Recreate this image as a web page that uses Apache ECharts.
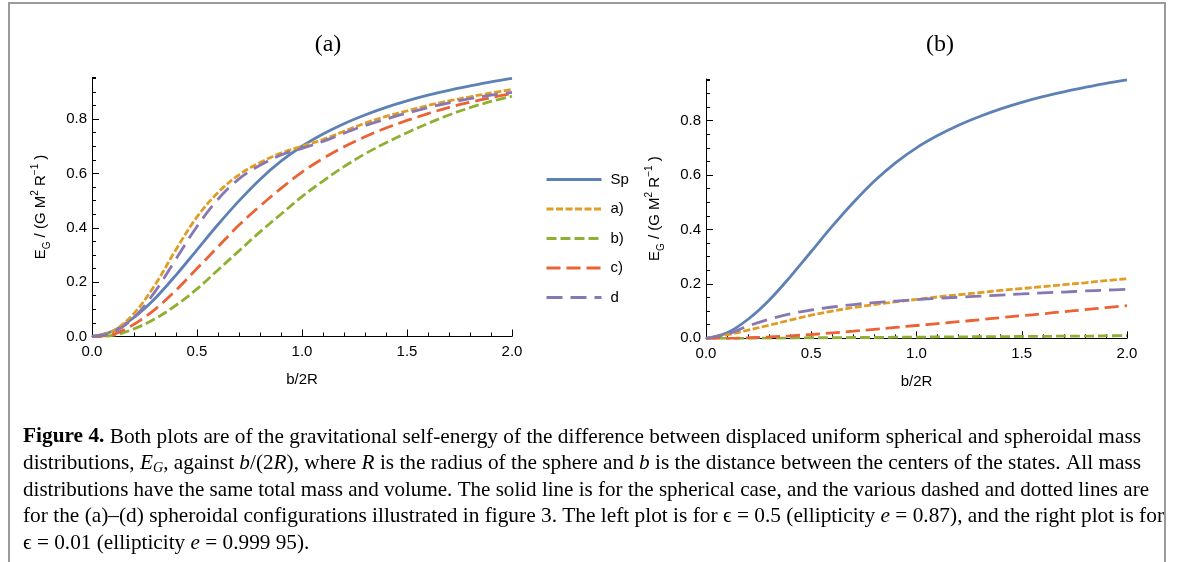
<!DOCTYPE html>
<html><head><meta charset="utf-8">
<script src="https://cdn.jsdelivr.net/npm/echarts@6/dist/echarts.min.js"></script>
<style>html,body{margin:0;padding:0;background:#fff}#c{width:1182px;height:562px}</style>
</head><body><div id="c"></div>
<script>
// ---------- data ----------
const xValues = [0,0.1,0.2,0.3,0.4,0.5,0.6,0.7,0.8,0.9,1.0,1.1,1.2,1.3,1.4,1.5,1.6,1.7,1.8,1.9,2.0];
const seriesNames = ['Sp','a)','b)','c)','d'];
const xTickLabels = ['0.0','0.5','1.0','1.5','2.0'];
const yTickValues = [0,0.2,0.4,0.6,0.8];
// left plot (epsilon = 0.5)
const leftSp = [0,0.02,0.07,0.14,0.226,0.319,0.412,0.499,0.578,0.645,0.70,0.745,0.783,0.815,0.843,0.867,0.888,0.906,0.922,0.937,0.95];
const leftA  = [0,0.02,0.085,0.19,0.32,0.44,0.53,0.595,0.64,0.675,0.70,0.725,0.755,0.785,0.81,0.83,0.85,0.867,0.882,0.896,0.909];
const leftB  = [0,0.004,0.028,0.065,0.115,0.175,0.245,0.315,0.385,0.45,0.515,0.572,0.625,0.672,0.713,0.75,0.784,0.815,0.842,0.865,0.884];
const leftC  = [0,0.008,0.045,0.10,0.17,0.25,0.33,0.41,0.48,0.545,0.605,0.655,0.698,0.735,0.767,0.795,0.82,0.843,0.862,0.879,0.894];
const leftD  = [0,0.015,0.07,0.165,0.285,0.405,0.505,0.58,0.63,0.668,0.692,0.718,0.748,0.776,0.80,0.822,0.842,0.86,0.875,0.888,0.898];
// right plot (epsilon = 0.01)
const rightSp = [0,0.02,0.07,0.14,0.226,0.319,0.412,0.499,0.578,0.645,0.70,0.745,0.783,0.815,0.843,0.867,0.888,0.906,0.922,0.937,0.95];
const rightA  = [0,0.013,0.03,0.048,0.067,0.085,0.1,0.113,0.124,0.134,0.143,0.152,0.16,0.168,0.176,0.183,0.19,0.197,0.204,0.212,0.219];
const rightB  = [0,0,0,0.001,0.001,0.002,0.002,0.003,0.003,0.004,0.004,0.005,0.005,0.006,0.006,0.007,0.007,0.008,0.008,0.009,0.01];
const rightC  = [0,0,0.002,0.005,0.009,0.014,0.02,0.026,0.033,0.04,0.047,0.054,0.061,0.068,0.076,0.083,0.09,0.098,0.105,0.113,0.12];
const rightD  = [0,0.015,0.045,0.07,0.09,0.104,0.115,0.124,0.131,0.137,0.142,0.147,0.151,0.155,0.159,0.163,0.167,0.17,0.174,0.177,0.18];

// ---------- styles ----------
const colors = ['#5E81B5','#E19C24','#8FB032','#EB6235','#8778B3'];
const dashes = ['solid',[7,2.5],[10,4],[14,6],[16,8]];
const sans = '"Liberation Sans", Arial, sans-serif';
const serif = '"Liberation Serif","DejaVu Serif", serif';

function pairs(ys){ return xValues.map((x,i)=>[x, ys[i]]); }

const leftSets = [leftSp,leftA,leftB,leftC,leftD];
const rightSets = [rightSp,rightA,rightB,rightC,rightD];

const series = [];
[leftSets, rightSets].forEach((sets, gi) => {
  sets.forEach((ys, k) => {
    series.push({
      name: seriesNames[k], type: 'line', xAxisIndex: gi, yAxisIndex: gi*2,
      data: pairs(ys), symbol: 'none', smooth: 0.35, animation: false,
      lineStyle: { color: colors[k], width: 2.8, type: dashes[k] },
      itemStyle: { color: colors[k] }, z: 3 + k
    });
  });
});

const yNameRich = {
  n: { fontSize: 15, fontFamily: sans, color: '#000', lineHeight: 22 },
  sub: { fontSize: 10, fontFamily: sans, color: '#000', verticalAlign: 'bottom', lineHeight: 22 },
  sup: { fontSize: 10, fontFamily: sans, color: '#000', verticalAlign: 'top', lineHeight: 22 }
};
const yName = '{n|E}{sub|G}{n| / (G M}{sup|2}{n| R}{sup|−1}{n| )}';

function xAxisDef(gi){
  return {
    gridIndex: gi, type: 'value', min: 0, max: 2, interval: 0.5,
    axisLine: { show: true, onZero: false, lineStyle: { color: '#000', width: 1 } },
    axisTick: { show: true, inside: true, length: 7, lineStyle: { color: '#000' } },
    minorTick: { show: true, splitNumber: 5, length: 4, lineStyle: { color: '#000' } },
    splitLine: { show: false },
    axisLabel: { color: '#000', fontSize: 15, fontFamily: sans, margin: 8,
      formatter: v => xTickLabels[Math.round(v/0.5)] || '' },
    name: 'b/2R', nameLocation: 'middle', nameGap: 36,
    nameTextStyle: { color: '#000', fontSize: 15, fontFamily: sans }
  };
}
function yAxisMain(gi){
  return {
    gridIndex: gi, type: 'value', min: 0, max: 0.953, interval: 0.2, position: 'left',
    axisLine: { show: true, onZero: false, lineStyle: { color: '#000', width: 1 } },
    axisTick: { show: true, inside: true, length: 7, lineStyle: { color: '#000' }, customValues: yTickValues },
    splitLine: { show: false },
    axisLabel: { color: '#000', fontSize: 15, fontFamily: sans, margin: 5,
      customValues: yTickValues,
      formatter: v => (Math.abs(v/0.2 - Math.round(v/0.2)) < 1e-6) ? v.toFixed(1) : '' },
    name: yName, nameLocation: 'middle', nameGap: 40, nameRotate: 90,
    nameTextStyle: { rich: yNameRich }
  };
}
function yAxisMinor(gi){
  return {
    gridIndex: gi, type: 'value', min: 0, max: 0.953, interval: 0.05, position: 'left', offset: 0,
    axisLine: { show: false },
    axisTick: { show: true, inside: true, length: 4, lineStyle: { color: '#000' } },
    axisLabel: { show: false }, splitLine: { show: false }
  };
}

// caption
const capFs = 21;
const capStyles = {
  n: { fontSize: capFs, fontFamily: serif, color: '#111', lineHeight: 24 },
  b: { fontSize: capFs, fontFamily: serif, color: '#111', fontWeight: 'bold', lineHeight: 24 },
  i: { fontSize: capFs, fontFamily: serif, color: '#111', fontStyle: 'italic', lineHeight: 24 },
  sub: { fontSize: 14, fontFamily: serif, color: '#111', fontStyle: 'italic', verticalAlign: 'bottom', lineHeight: 24 },
  l: { fontSize: capFs, fontFamily: serif, color: '#2B9BD3', lineHeight: 24 }
};
const capLines = [
  [['b','Figure 4.'],['n',' Both plots are of the gravitational self-energy of the difference between displaced uniform spherical and spheroidal mass']],
  [['n','distributions, '],['i','E'],['sub','G'],['n',', against '],['i','b'],['n','/(2'],['i','R'],['n','), where '],['i','R'],['n',' is the radius of the sphere and '],['i','b'],['n',' is the distance between the centers of the states. All mass']],
  [['n','distributions have the same total mass and volume. The solid line is for the spherical case, and the various dashed and dotted lines are']],
  [['n','for the (a)–(d) spheroidal configurations illustrated in figure '],['l','3'],['n','. The left plot is for ϵ = 0.5 (ellipticity '],['i','e'],['n',' = 0.87), and the right plot is for']],
  [['n','ϵ = 0.01 (ellipticity '],['i','e'],['n',' = 0.999 95).']]
];
const capLineY = [437, 463.5, 490, 516.5, 543];
const capTargetW = [1118, 1118, 1126, 1141, null];

const mctx = document.createElement('canvas').getContext('2d');
function measure(line){
  let w = 0;
  line.forEach(([s,t]) => {
    const st = capStyles[s];
    mctx.font = `${st.fontStyle||'normal'} ${st.fontWeight||'normal'} ${st.fontSize}px ${st.fontFamily}`;
    w += mctx.measureText(t).width;
  });
  return w;
}
const scales = capLines.map((l,i) => capTargetW[i] ? capTargetW[i]/measure(l) : null);
const known = scales.filter(s=>s); const avgScale = known.reduce((a,b)=>a+b,0)/known.length;

const graphics = [
  { type: 'rect', shape: { x: 9, y: 3, width: 1156, height: 700 }, style: { fill: 'none', stroke: '#9a9a9a', lineWidth: 2 }, z: 0 },
  { type: 'text', x: 328, y: 45, style: { text: '(a)', font: `24px ${serif}`, fill: '#000', textAlign: 'center', textVerticalAlign: 'middle' } },
  { type: 'text', x: 940, y: 45, style: { text: '(b)', font: `24px ${serif}`, fill: '#000', textAlign: 'center', textVerticalAlign: 'middle' } }
];
capLines.forEach((line, i) => {
  graphics.push({
    type: 'text', x: 23, y: capLineY[i], scaleX: scales[i] || avgScale,
    style: { text: line.map(([s,t]) => `{${s}|${t}}`).join(''), rich: capStyles,
      textAlign: 'left', textVerticalAlign: 'middle' }
  });
});

const chart = echarts.init(document.getElementById('c'), null, { renderer: 'canvas' });
chart.setOption({
  animation: false,
  backgroundColor: '#fff',
  grid: [
    { left: 92, top: 77.5, width: 420, height: 259 },
    { left: 706, top: 79, width: 421, height: 259.3 }
  ],
  xAxis: [xAxisDef(0), xAxisDef(1)],
  yAxis: [yAxisMain(0), yAxisMinor(0), yAxisMain(1), yAxisMinor(1)],
  legend: {
    data: seriesNames, orient: 'vertical', left: 545, top: 172, padding: 0,
    itemWidth: 55, itemHeight: 14, itemGap: 14.5, selectedMode: false,
    itemStyle: { opacity: 0 },
    lineStyle: { width: 3 },
    textStyle: { color: '#000', fontSize: 15, fontFamily: sans, padding: [0,0,0,4] }
  },
  series: series,
  graphic: graphics
});
</script>
</body></html>
